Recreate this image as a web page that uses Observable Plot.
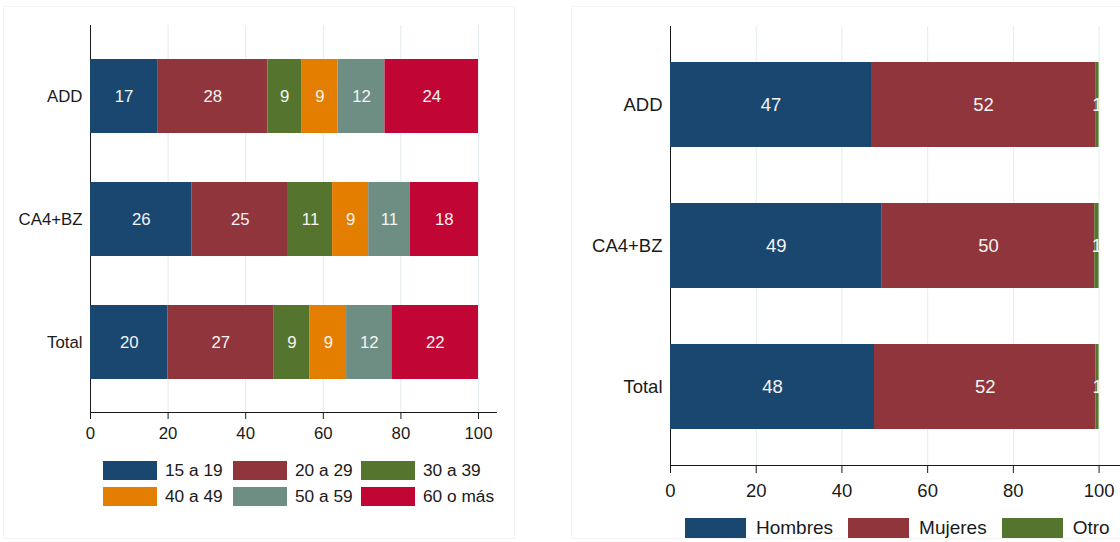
<!DOCTYPE html>
<html>
<head>
<meta charset="utf-8">
<script src="https://cdn.jsdelivr.net/npm/d3@7"></script>
<script src="https://cdn.jsdelivr.net/npm/@observablehq/plot@0.6"></script>
<style>
  body { margin: 0; background: #fff; font-family: "Liberation Sans", Arial, sans-serif; }
  #wrap { position: relative; width: 1120px; height: 542px; overflow: hidden; background: #fff; }
  .abs { position: absolute; }
  .panel { position: absolute; border: 1px solid #f4f4f4; pointer-events: none; }
  #p1 { left: 3px; top: 6px; width: 510px; height: 531px; }
  #p2 { left: 571px; top: 6px; width: 560px; height: 531px; }
  #legL { left: 103px; top: 461px; }
  #legR { left: 685px; top: 518px; }
  #legL > * { display: grid !important; grid-template-columns: 130px 128px auto; row-gap: 7px; column-gap: 0;
    margin: 0 !important; min-height: 0 !important; font: 17.3px "Liberation Sans", Arial, sans-serif !important; color: #1a1a1a; }
  #legL > * > :not(style) { display: inline-flex; align-items: center; margin: 0 !important; height: 19px; line-height: 19px; }
  #legL > * > :not(style) > svg { margin-right: 8px !important; }
  #legR > * { display: flex !important; flex-wrap: nowrap !important; align-items: center;
    margin: 0 !important; min-height: 0 !important; font: 19px "Liberation Sans", Arial, sans-serif !important; color: #1a1a1a; }
  #legR > * > :not(style) { display: inline-flex; align-items: center; margin: 0 15px 0 0 !important; height: 20px; line-height: 20px; }
  #legR > * > :not(style) > svg { margin-right: 10px !important; }
</style>
</head>
<body>
<div id="wrap">
  <div id="chartL" class="abs" style="left:0;top:0;"></div>
  <div id="chartR" class="abs" style="left:560px;top:0;"></div>
  <div id="legL" class="abs"></div>
  <div id="legR" class="abs"></div>
  <div id="p1" class="panel"></div>
  <div id="p2" class="panel"></div>
</div>
<script>
// ---- Data ----
const categories = ["ADD", "CA4+BZ", "Total"];

const ageGroups = ["15 a 19", "20 a 29", "30 a 39", "40 a 49", "50 a 59", "60 o más"];
const ageColors = ["#1a476f", "#90353b", "#55752f", "#e37e00", "#6e8e84", "#c10534"];
const ageADD   = [17.3, 28.4, 8.7, 9.4, 12.1, 24.1];
const ageCA4BZ = [26.2, 24.8, 11.4, 9.3, 10.7, 17.6];
const ageTotal = [20.0, 27.2, 9.4, 9.4, 11.7, 22.3];

const sexGroups = ["Hombres", "Mujeres", "Otro"];
const sexColors = ["#1a476f", "#90353b", "#55752f"];
const sexADD   = [46.9, 52.3, 0.8];
const sexCA4BZ = [49.4, 49.6, 1.0];
const sexTotal = [47.6, 51.7, 0.7];

const xTicks = [0, 20, 40, 60, 80, 100];
const gridTicks = [20, 40, 60, 80, 100];

// ---- Build tables ----
function table(groups, seriesByCat) {
  const rows = [];
  categories.forEach((c, i) => {
    seriesByCat[i].forEach((v, j) => rows.push({cat: c, group: groups[j], value: v}));
  });
  return rows;
}
const ageData = table(ageGroups, [ageADD, ageCA4BZ, ageTotal]);
const sexData = table(sexGroups, [sexADD, sexCA4BZ, sexTotal]);

const font = '"Liberation Sans", Arial, sans-serif';

function chart(data, groups, colors, o) {
  return Plot.plot({
    width: o.width,
    height: o.height,
    marginLeft: o.ml, marginRight: o.mr, marginTop: o.mt, marginBottom: o.mb,
    style: {fontFamily: font, fontSize: o.fs + "px", color: "#1a1a1a", background: "#fff", maxWidth: "none", overflow: "visible"},
    x: {domain: [0, o.xmax], ticks: xTicks, tickSize: o.tickSize, tickPadding: o.tickPad, line: true, label: null},
    y: {domain: categories, paddingInner: 0.4, paddingOuter: o.po, tickSize: 0, tickPadding: 8, line: true, label: null},
    color: {domain: groups, range: colors},
    marks: [
      Plot.ruleX(gridTicks, {stroke: "#e2ecef", strokeWidth: 1}),
      Plot.barX(data, Plot.stackX({x: "value", y: "cat", fill: "group"})),
      Plot.text(data, Plot.stackX({x: "value", y: "cat", z: "group",
        text: d => String(Math.round(d.value)), fill: "#f4f4f4", fontSize: o.fs}))
    ]
  });
}

document.getElementById("chartL").append(chart(ageData, ageGroups, ageColors, {
  width: 516, height: 450, ml: 90, mr: 20, mt: 25, mb: 38, xmax: 104.64, po: 0.273,
  fs: 16.8, tickSize: 7, tickPad: 8
}));
document.getElementById("chartR").append(chart(sexData, sexGroups, sexColors, {
  width: 560, height: 510, ml: 110, mr: 0, mt: 26, mb: 45, xmax: 105, po: 0.251,
  fs: 18.5, tickSize: 8, tickPad: 10
}));

document.getElementById("legL").append(Plot.legend({
  color: {domain: ageGroups, range: ageColors},
  legend: "swatches", swatchWidth: 54, swatchHeight: 19, className: "lgl"
}));
document.getElementById("legR").append(Plot.legend({
  color: {domain: sexGroups, range: sexColors},
  legend: "swatches", swatchWidth: 61, swatchHeight: 20, className: "lgr"
}));
</script>
</body>
</html>
